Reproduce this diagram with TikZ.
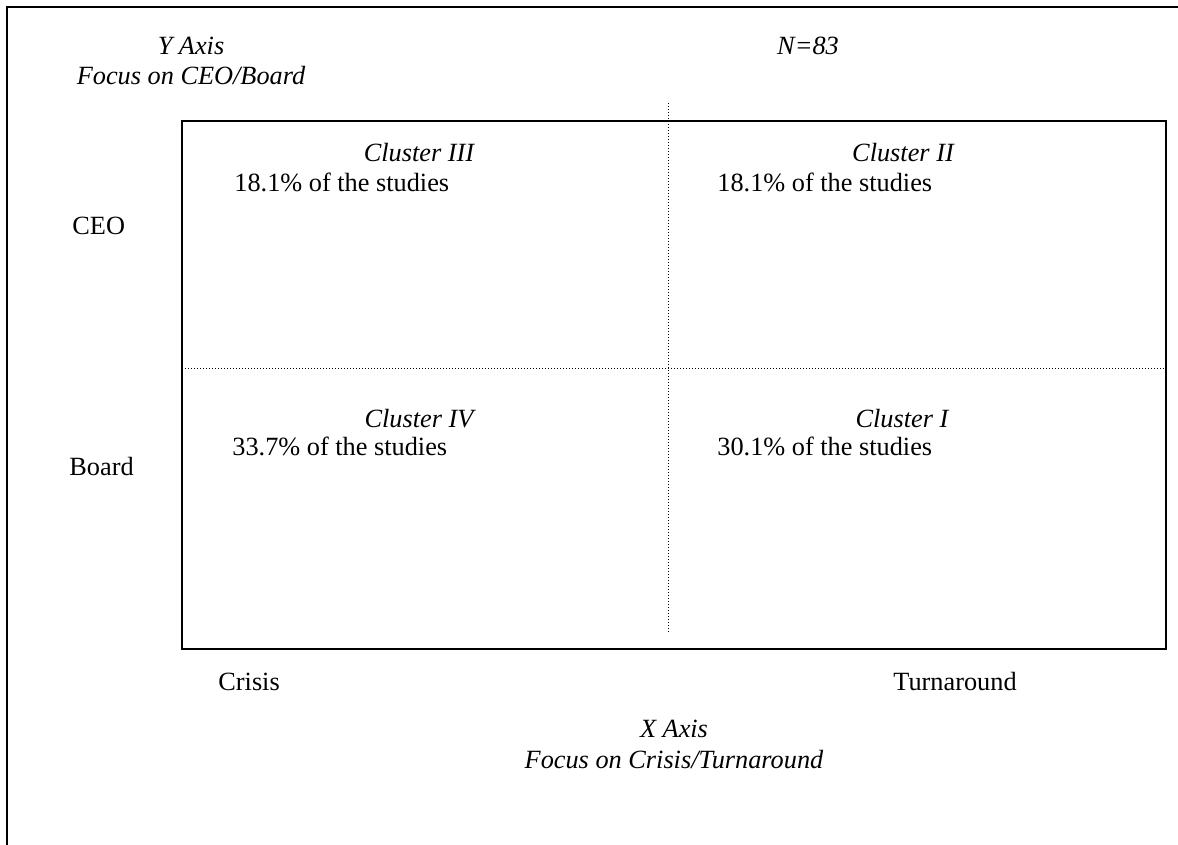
\documentclass[tikz,border=0pt]{standalone}
\usepackage{fontspec}
\setmainfont{Liberation Serif}
\tikzset{
  lbl/.style={inner sep=0pt,anchor=base west,font=\fontsize{13.15}{15}\selectfont},
  ilbl/.style={inner sep=0pt,anchor=base,font=\fontsize{13.15}{15}\selectfont\itshape},
  frame/.style={line width=1pt},
  split/.style={line width=0.5pt,dash pattern=on 0.5pt off 1pt}
}
\begin{document}
\begin{tikzpicture}[x=0.5pt,y=0.5pt,yscale=-1,xscale=1]
\useasboundingbox (0,0) rectangle (1178,845);
% outer frame (cut off at right and bottom)
\draw [frame] (7,845) -- (7,7) -- (1178,7) ;
% quadrant box
\draw [frame] (182,121) rectangle (1166,649) ;
\coordinate (vtop) at (668,103);
\coordinate (vbot) at (668,632);
\coordinate (hleft) at (182,368);
\coordinate (hright) at (1166,368);
\draw [split] (vtop) -- (vbot) ;
\draw [split] (hleft) -- (hright) ;
% axis titles
\node [ilbl] (yaxis) at (191,55) {Y Axis};
\node [ilbl] (yfocus) at (191,85) {Focus on CEO/Board};
\node [ilbl] (total) at (808,55) {N=83};
\node [ilbl] (xaxis) at (674,737) {X Axis};
\node [ilbl] (xfocus) at (674,768) {Focus on Crisis/Turnaround};
% side and bottom labels
\node [lbl] (ceo) at (72,235) {CEO};
\node [lbl] (board) at (69,475) {Board};
\node [lbl] (crisis) at (218,690) {Crisis};
\node [lbl] (turn) at (893,690) {Turnaround};
% clusters
\node [ilbl] (c3) at (419,162) {Cluster III};
\node [lbl] (c3p) at (234,192) {18.1\% of the studies};
\node [ilbl] (c2) at (903,162) {Cluster II};
\node [lbl] (c2p) at (717,192) {18.1\% of the studies};
\node [ilbl] (c4) at (419,427) {Cluster IV};
\node [lbl] (c4p) at (232,455) {33.7\% of the studies};
\node [ilbl] (c1) at (902,427) {Cluster I};
\node [lbl] (c1p) at (717,455) {30.1\% of the studies};
\end{tikzpicture}
\end{document}
